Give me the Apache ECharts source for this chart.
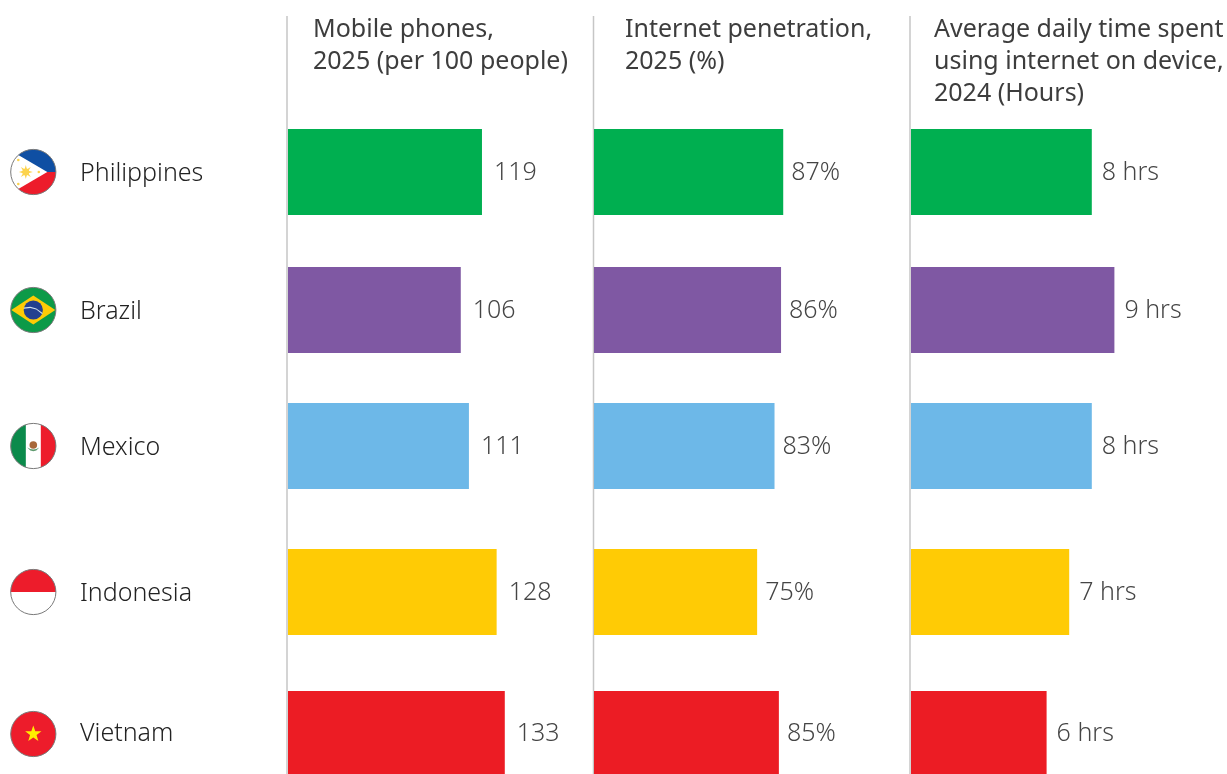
<!DOCTYPE html>
<html>
<head>
<meta charset="utf-8">
<style>html,body{margin:0;padding:0;background:#fff;overflow:hidden}#chart{width:1227px;height:774px}</style>
<script src="https://cdn.jsdelivr.net/npm/echarts@6/dist/echarts.min.js"></script>
</head>
<body>
<div id="chart"></div>
<script>
// Country rows, top to bottom
const countries = ['Philippines', 'Brazil', 'Mexico', 'Indonesia', 'Vietnam'];
const mobilePhones = [119, 106, 111, 128, 133];
const internetPenetration = [87, 86, 83, 75, 85];
const dailyHours = [8, 9, 8, 7, 6];
const rowColors = ['#00AF50', '#7F58A3', '#6DB8E8', '#FFCB05', '#EC1C24'];
const columnTitles = [
  'Mobile phones,\n2025 (per 100 people)',
  'Internet penetration,\n2025 (%)',
  'Average daily time spent\nusing internet on device,\n2024 (Hours)'
];

const FONT = '"Noto Sans", sans-serif';
const rowTops = [129, 267, 403, 549, 691];
const rowHeight = 86;
const flagX = 33.3;

// Each column has its own value scale, expressed as a domain and a pixel span
const columns = [
  { values: mobilePhones, left: 288, axisMax: 150, span: 244.5, suffix: '', gap: 12, titleLeft: 313, ruleX: 287 },
  { values: internetPenetration, left: 594, axisMax: 100, span: 217.5, suffix: '%', gap: 8, titleLeft: 625, ruleX: 593.5 },
  { values: dailyHours, left: 911, axisMax: 10, span: 226, suffix: ' hrs', gap: 10, titleLeft: 934, ruleX: 910 }
];

const grids = [], xAxes = [], yAxes = [], series = [];
columns.forEach((col, c) => {
  countries.forEach((name, r) => {
    const idx = grids.length;
    grids.push({ left: col.left, top: rowTops[r], width: col.span, height: rowHeight });
    xAxes.push({ type: 'value', gridIndex: idx, min: 0, max: col.axisMax, show: false });
    yAxes.push({
      type: 'category', gridIndex: idx, data: [name],
      axisLine: { show: false }, axisTick: { show: false }, splitLine: { show: false },
      axisLabel: c === 0
        ? {
            show: true, align: 'left', margin: 208,
            formatter: v => `{n|${v}}`,
            rich: { n: { padding: [3, 0, 0, 0], fontFamily: FONT, fontSize: 25, fontWeight: 300, color: '#222222' } }
          }
        : { show: false }
    });
    series.push({
      type: 'bar', xAxisIndex: idx, yAxisIndex: idx, barWidth: '100%',
      data: [col.values[r]],
      itemStyle: { color: rowColors[r] },
      label: {
        show: true, position: 'right', distance: col.gap, offset: [0, 1],
        formatter: p => p.value + col.suffix,
        fontFamily: FONT, fontSize: 25, fontWeight: 300, color: '#454545'
      },
      silent: true
    });
  });
});

// Flag badges, all drawn around a local origin at the badge centre
const R = 22.6;
const deg = Math.atan2;
function chordAt(dx) { return Math.sqrt(R * R - dx * dx); }
function arcPoints(from, to) {
  const pts = [], n = 48;
  for (let i = 0; i <= n; i++) {
    const a = from + (to - from) * i / n;
    pts.push([R * Math.cos(a), R * Math.sin(a)]);
  }
  return pts;
}
function starPoints(cx, cy, outer, inner, points) {
  const pts = [];
  for (let i = 0; i < points * 2; i++) {
    const rad = i % 2 ? inner : outer;
    const a = -Math.PI / 2 + i * Math.PI / points;
    pts.push([cx + rad * Math.cos(a), cy + rad * Math.sin(a)]);
  }
  return pts;
}
function disc(fill) {
  return { type: 'circle', shape: { cx: 0, cy: 0, r: R }, style: { fill } };
}
function rim() {
  return { type: 'circle', shape: { cx: 0, cy: 0, r: R }, style: { fill: 'none', stroke: '#7a7a7a', lineWidth: 1 } };
}
function poly(points, fill) {
  return { type: 'polygon', shape: { points }, style: { fill } };
}
function dot(cx, cy, r, fill) {
  return { type: 'circle', shape: { cx, cy, r }, style: { fill } };
}
const phY = chordAt(15);
const phA = deg(phY, -15);
const mxY = chordAt(7.5);
const mxA = deg(mxY, -7.5);
const flagParts = {
  Philippines: [
    disc('#ffffff'),
    poly(arcPoints(-phA, 0).concat([[14, 0]]), '#0F4FA3'),
    poly(arcPoints(phA, 0).concat([[14, 0]]), '#ED1C2B'),
    poly(starPoints(-7.5, 0, 7, 3, 8), '#FCD34D'),
    dot(-7.5, 0, 3.4, '#FCD34D'),
    dot(-15, -12, 1.3, '#FCD34D'),
    dot(-15, 12, 1.3, '#FCD34D'),
    dot(5.5, 0, 1.3, '#FCD34D'),
    rim()
  ],
  Brazil: [
    disc('#0C9A48'),
    poly([[-22, 0], [0, -14.5], [22, 0], [0, 14.5]], '#FFCB05'),
    dot(0, 0, 9.6, '#23408F'),
    poly([[-9.3, -2.6], [-3, -3.2], [3, -1.6], [9.3, 3], [9, 4.2], [3, -0.4], [-3, -2.1], [-9.6, -1.2]], '#D5E4EE'),
    rim()
  ],
  Mexico: [
    disc('#ffffff'),
    poly(arcPoints(mxA, 2 * Math.PI - mxA), '#0B8A4B'),
    poly(arcPoints(-(Math.PI - mxA), Math.PI - mxA), '#ED1C2B'),
    dot(0, -1, 3.8, '#A8683A'),
    poly([[-6, 1.5], [-3, 4.4], [0, 5.2], [3, 4.4], [6, 1.5], [3, 3], [0, 3.6], [-3, 3]], '#5E9A6E'),
    rim()
  ],
  Indonesia: [
    disc('#ffffff'),
    poly(arcPoints(-Math.PI, 0), '#ED1C2B'),
    rim()
  ],
  Vietnam: [
    disc('#ED1C2B'),
    poly(starPoints(0, 0, 8.6, 3.4, 5), '#FFEE00'),
    rim()
  ]
};

const graphics = [];
columns.forEach(col => {
  graphics.push({
    type: 'line', silent: true,
    shape: { x1: col.ruleX, y1: 16, x2: col.ruleX, y2: 774 },
    style: { stroke: '#c6c6c6', lineWidth: 1.5 }
  });
});
countries.forEach((name, r) => {
  graphics.push({
    type: 'group', x: flagX, y: rowTops[r] + rowHeight / 2,
    children: flagParts[name]
  });
});

const option = {
  animation: false,
  backgroundColor: '#ffffff',
  title: columns.map((col, c) => ({
    text: columnTitles[c],
    left: col.titleLeft, top: 14, padding: 0,
    textStyle: { fontFamily: FONT, fontSize: 25, fontWeight: 'normal', color: '#3d3d3d', lineHeight: 32 }
  })),
  grid: grids, xAxis: xAxes, yAxis: yAxes, series,
  graphic: graphics
};

echarts.init(document.getElementById('chart'), null, { renderer: 'canvas' }).setOption(option);
</script>
</body>
</html>
